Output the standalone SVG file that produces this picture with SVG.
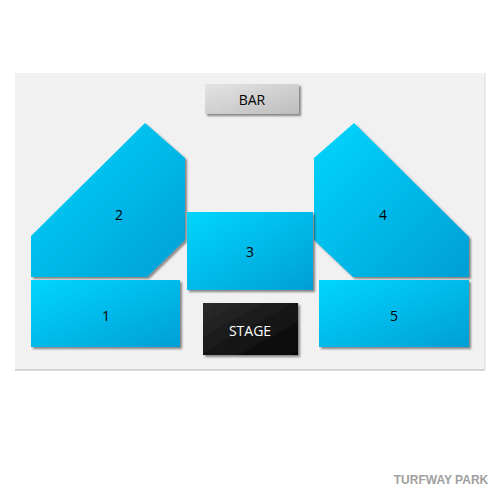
<svg xmlns="http://www.w3.org/2000/svg" width="500" height="500" viewBox="0 0 500 500">
<defs>
<linearGradient id="blue" x1="0" y1="0" x2="1" y2="1">
<stop offset="0" stop-color="#00d6fe"/>
<stop offset="1" stop-color="#009ed6"/>
</linearGradient>
<linearGradient id="gray" x1="0" y1="0" x2="1" y2="1">
<stop offset="0" stop-color="#e4e4e4"/>
<stop offset="1" stop-color="#bdbdbd"/>
</linearGradient>
<linearGradient id="black" x1="0" y1="0" x2="1" y2="1">
<stop offset="0" stop-color="#2c2c2c"/>
<stop offset="1" stop-color="#050505"/>
</linearGradient>
<filter id="sh" x="-10%" y="-10%" width="130%" height="130%">
<feDropShadow dx="2" dy="2" stdDeviation="1" flood-color="#000" flood-opacity="0.45"/>
</filter>
</defs>
<style>
.sec{fill:url(#blue);filter:url(#sh)}
.lbl{font-family:"Open Sans","DejaVu Sans",sans-serif;font-size:14px;fill:#000;text-anchor:middle}
</style>
<rect x="0" y="0" width="500" height="500" fill="#ffffff"/>
<g id="floor">
<rect x="15" y="73" width="470" height="297" fill="#f1f1f1"/>
<line x1="15" y1="370" x2="485" y2="370" stroke="#c8c8c8" stroke-width="1.5"/>
<line x1="485" y1="73" x2="485" y2="370" stroke="#dcdcdc" stroke-width="1"/>
</g>
<g id="bar">
<rect x="205" y="84" width="94" height="30" fill="url(#gray)" filter="url(#sh)"/>
<text class="lbl" x="252" y="104.5" font-size="13">BAR</text>
</g>
<g id="sec2">
<polygon class="sec" points="145,123 185,158 185,240 147,277 31,277 31,236"/>
<text class="lbl" x="119" y="220">2</text>
</g>
<g id="sec4">
<polygon class="sec" points="354,123 314,158 314,240 353,277 469,277 469,237"/>
<text class="lbl" x="383" y="220">4</text>
</g>
<g id="sec3">
<rect class="sec" x="187" y="212" width="126" height="78"/>
<text class="lbl" x="250" y="257">3</text>
</g>
<g id="sec1">
<rect class="sec" x="31" y="280" width="149" height="67"/>
<text class="lbl" x="106" y="321">1</text>
</g>
<g id="sec5">
<rect class="sec" x="319" y="280" width="150" height="67"/>
<text class="lbl" x="394" y="321">5</text>
</g>
<g id="stage">
<rect x="203" y="303" width="95" height="52" fill="url(#black)" filter="url(#sh)"/>
<text class="lbl" x="250" y="335.5" font-size="13" fill="#ffffff" style="fill:#fff">STAGE</text>
</g>
<g id="connectors"></g>
<text x="441" y="484" font-family="'Liberation Sans',Arial,sans-serif" font-size="12" font-weight="bold" fill="#a0a0a0" text-anchor="middle">TURFWAY PARK</text>
</svg>
